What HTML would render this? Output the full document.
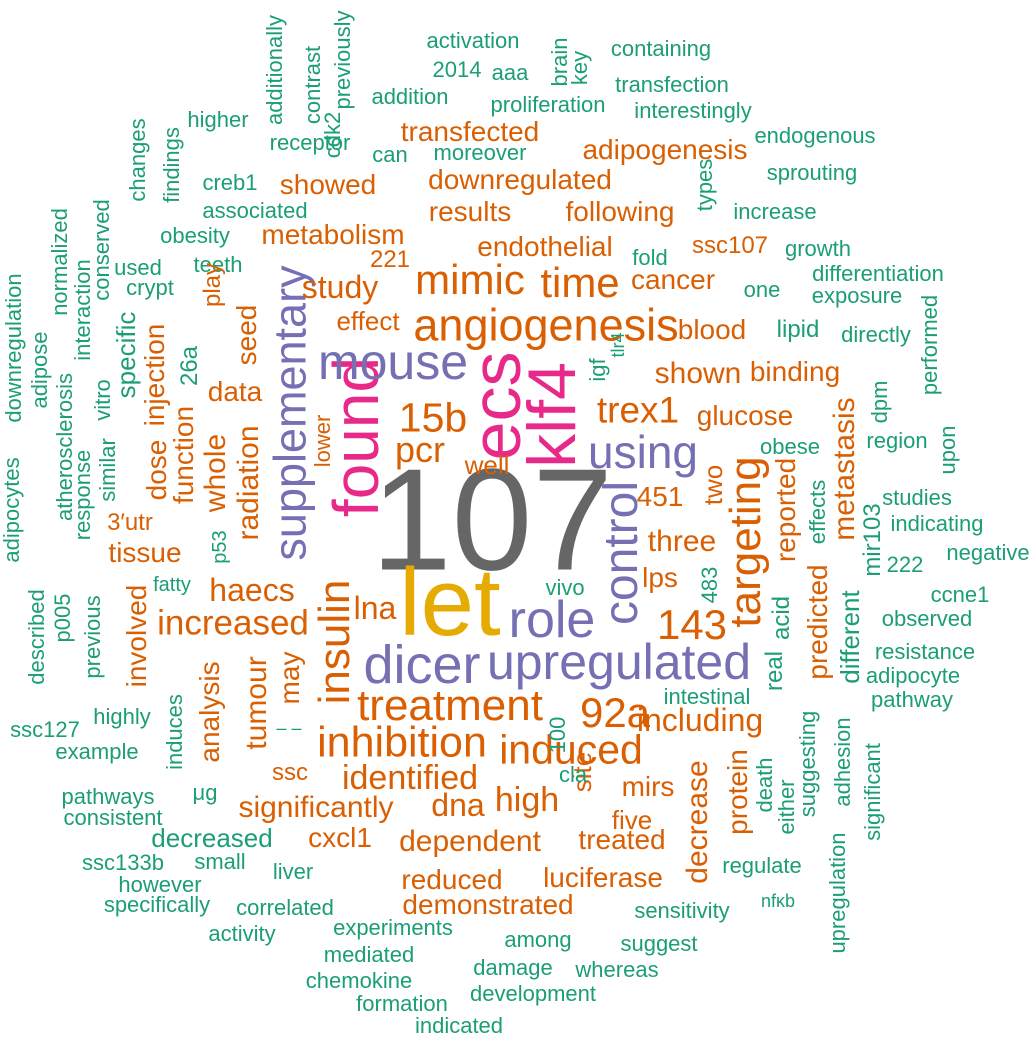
<!DOCTYPE html>
<html><head><meta charset="utf-8"><style>
body{margin:0;width:1029px;height:1035px;background:#fff;position:relative;overflow:hidden;font-family:"Liberation Sans",Arial,sans-serif}
.w{position:absolute;transform:translate(-50%,-50%);white-space:nowrap;line-height:1}
.r{transform:translate(-50%,-50%) rotate(-90deg)}
.g{color:#1B9E77;font-size:22px}.o{color:#D95F02;font-size:28px}.p{color:#7570B3}.k{color:#E7298A}.y{color:#E6AB02}.d{color:#666}
</style></head><body>
<div class="w d" style="left:492px;top:520px;font-size:145px">107</div>
<div class="w y" style="left:450px;top:603px;font-size:96px">let</div>
<div class="w r k" style="left:552px;top:415px;font-size:68px">klf4</div>
<div class="w r k" style="left:496px;top:406px;font-size:70px">ecs</div>
<div class="w r k" style="left:356px;top:437px;font-size:64px">found</div>
<div class="w p" style="left:393px;top:362px;font-size:50px">mouse</div>
<div class="w r p" style="left:290px;top:413px;font-size:45px">supplementary</div>
<div class="w p" style="left:643px;top:452px;font-size:46px">using</div>
<div class="w r p" style="left:622px;top:553px;font-size:48px">control</div>
<div class="w p" style="left:552px;top:620px;font-size:52px">role</div>
<div class="w p" style="left:422px;top:665px;font-size:54px">dicer</div>
<div class="w p" style="left:619px;top:662px;font-size:50px">upregulated</div>
<div class="w o" style="left:546px;top:325px;font-size:45px">angiogenesis</div>
<div class="w o" style="left:470px;top:280px;font-size:42px">mimic</div>
<div class="w o" style="left:580px;top:283px;font-size:42px">time</div>
<div class="w o" style="left:433px;top:418px;font-size:41px">15b</div>
<div class="w o" style="left:420px;top:450px;font-size:36px">pcr</div>
<div class="w o" style="left:638px;top:410px;font-size:37px">trex1</div>
<div class="w r o" style="left:746px;top:542px;font-size:44px">targeting</div>
<div class="w r o" style="left:335px;top:642px;font-size:44px">insulin</div>
<div class="w o" style="left:450px;top:706px;font-size:44px">treatment</div>
<div class="w o" style="left:402px;top:743px;font-size:43px">inhibition</div>
<div class="w o" style="left:571px;top:750px;font-size:41px">induced</div>
<div class="w o" style="left:692px;top:625px;font-size:42px">143</div>
<div class="w o" style="left:615px;top:713px;font-size:42px">92a</div>
<div class="w o" style="left:233px;top:623px;font-size:35px">increased</div>
<div class="w o" style="left:252px;top:590px;font-size:32px">haecs</div>
<div class="w o" style="left:375px;top:608px;font-size:32px">lna</div>
<div class="w o" style="left:700px;top:720px;font-size:32px">including</div>
<div class="w o" style="left:410px;top:778px;font-size:34px">identified</div>
<div class="w o" style="left:527px;top:800px;font-size:34px">high</div>
<div class="w o" style="left:458px;top:805px;font-size:32px">dna</div>
<div class="w o" style="left:316px;top:808px;font-size:30px">significantly</div>
<div class="w r g" style="left:275px;top:70px">additionally</div>
<div class="w r g" style="left:313px;top:85px">contrast</div>
<div class="w r g" style="left:343px;top:60px">previously</div>
<div class="w g" style="left:473px;top:41px">activation</div>
<div class="w g" style="left:457px;top:70px">2014</div>
<div class="w g" style="left:510px;top:73px">aaa</div>
<div class="w r g" style="left:560px;top:62px">brain</div>
<div class="w r g" style="left:580px;top:68px">key</div>
<div class="w g" style="left:661px;top:49px">containing</div>
<div class="w g" style="left:672px;top:85px">transfection</div>
<div class="w g" style="left:410px;top:97px">addition</div>
<div class="w g" style="left:548px;top:105px">proliferation</div>
<div class="w g" style="left:693px;top:111px">interestingly</div>
<div class="w g" style="left:218px;top:120px">higher</div>
<div class="w r g" style="left:333px;top:135px">cdk2</div>
<div class="w g" style="left:310px;top:143px">receptor</div>
<div class="w o" style="left:470px;top:132px">transfected</div>
<div class="w g" style="left:815px;top:136px">endogenous</div>
<div class="w r g" style="left:138px;top:160px">changes</div>
<div class="w r g" style="left:172px;top:165px">findings</div>
<div class="w g" style="left:390px;top:155px">can</div>
<div class="w g" style="left:480px;top:153px">moreover</div>
<div class="w o" style="left:665px;top:150px">adipogenesis</div>
<div class="w g" style="left:812px;top:173px">sprouting</div>
<div class="w g" style="left:230px;top:183px">creb1</div>
<div class="w o" style="left:328px;top:185px">showed</div>
<div class="w o" style="left:520px;top:180px">downregulated</div>
<div class="w r g" style="left:705px;top:185px">types</div>
<div class="w g" style="left:255px;top:211px">associated</div>
<div class="w o" style="left:470px;top:212px">results</div>
<div class="w o" style="left:620px;top:212px">following</div>
<div class="w g" style="left:775px;top:212px">increase</div>
<div class="w r g" style="left:102px;top:250px">conserved</div>
<div class="w r g" style="left:60px;top:262px">normalized</div>
<div class="w g" style="left:195px;top:236px">obesity</div>
<div class="w o" style="left:333px;top:235px">metabolism</div>
<div class="w o" style="left:545px;top:247px">endothelial</div>
<div class="w o" style="left:730px;top:246px;font-size:24px">ssc107</div>
<div class="w g" style="left:818px;top:249px">growth</div>
<div class="w g" style="left:218px;top:265px">teeth</div>
<div class="w o" style="left:390px;top:260px;font-size:24px">221</div>
<div class="w o" style="left:340px;top:287px;font-size:32px">study</div>
<div class="w o" style="left:673px;top:280px">cancer</div>
<div class="w g" style="left:650px;top:258px">fold</div>
<div class="w g" style="left:878px;top:274px">differentiation</div>
<div class="w g" style="left:138px;top:268px">used</div>
<div class="w r g" style="left:83px;top:310px">interaction</div>
<div class="w g" style="left:150px;top:288px">crypt</div>
<div class="w r o" style="left:213px;top:285px;font-size:24px">play</div>
<div class="w r o" style="left:247px;top:335px">seed</div>
<div class="w g" style="left:762px;top:290px">one</div>
<div class="w g" style="left:857px;top:296px">exposure</div>
<div class="w r g" style="left:14px;top:348px">downregulation</div>
<div class="w r g" style="left:40px;top:370px">adipose</div>
<div class="w r g" style="left:65px;top:447px">atherosclerosis</div>
<div class="w r g" style="left:126px;top:355px;font-size:26px">specific</div>
<div class="w r g" style="left:190px;top:366px;font-size:24px">26a</div>
<div class="w o" style="left:368px;top:321px;font-size:26px">effect</div>
<div class="w g" style="left:798px;top:330px;font-size:24px">lipid</div>
<div class="w o" style="left:712px;top:330px">blood</div>
<div class="w g" style="left:876px;top:335px">directly</div>
<div class="w r o" style="left:155px;top:375px">injection</div>
<div class="w o" style="left:235px;top:392px">data</div>
<div class="w o" style="left:698px;top:374px;font-size:30px">shown</div>
<div class="w o" style="left:795px;top:372px">binding</div>
<div class="w r g" style="left:598px;top:370px">igf</div>
<div class="w r g" style="left:618px;top:345px;font-size:18px">tlr4</div>
<div class="w r g" style="left:930px;top:345px">performed</div>
<div class="w r g" style="left:103px;top:400px">vitro</div>
<div class="w r g" style="left:108px;top:470px">similar</div>
<div class="w r g" style="left:83px;top:495px">response</div>
<div class="w r o" style="left:157px;top:470px">dose</div>
<div class="w r o" style="left:184px;top:455px">function</div>
<div class="w r o" style="left:216px;top:473px;font-size:30px">whole</div>
<div class="w r o" style="left:249px;top:483px;font-size:30px">radiation</div>
<div class="w r o" style="left:323px;top:441px;font-size:22px">lower</div>
<div class="w r o" style="left:845px;top:469px;font-size:30px">metastasis</div>
<div class="w o" style="left:745px;top:416px">glucose</div>
<div class="w g" style="left:897px;top:441px">region</div>
<div class="w r g" style="left:880px;top:402px">dpm</div>
<div class="w r g" style="left:948px;top:450px">upon</div>
<div class="w g" style="left:790px;top:447px">obese</div>
<div class="w o" style="left:487px;top:465px;font-size:26px">well</div>
<div class="w r g" style="left:12px;top:510px">adipocytes</div>
<div class="w o" style="left:130px;top:523px;font-size:24px">3′utr</div>
<div class="w o" style="left:145px;top:553px">tissue</div>
<div class="w r o" style="left:713px;top:485px;font-size:26px">two</div>
<div class="w o" style="left:660px;top:497px">451</div>
<div class="w r o" style="left:786px;top:510px;font-size:28px">reported</div>
<div class="w r g" style="left:818px;top:512px;font-size:22px">effects</div>
<div class="w r g" style="left:873px;top:540px;font-size:24px">mir103</div>
<div class="w g" style="left:917px;top:498px">studies</div>
<div class="w g" style="left:937px;top:524px">indicating</div>
<div class="w g" style="left:988px;top:553px">negative</div>
<div class="w r g" style="left:220px;top:547px;font-size:20px">p53</div>
<div class="w o" style="left:682px;top:542px;font-size:30px">three</div>
<div class="w g" style="left:565px;top:588px">vivo</div>
<div class="w o" style="left:660px;top:578px">lps</div>
<div class="w r g" style="left:782px;top:618px;font-size:24px">acid</div>
<div class="w r o" style="left:818px;top:622px;font-size:28px">predicted</div>
<div class="w r g" style="left:775px;top:671px;font-size:24px">real</div>
<div class="w r g" style="left:710px;top:585px">483</div>
<div class="w g" style="left:905px;top:565px">222</div>
<div class="w g" style="left:960px;top:595px">ccne1</div>
<div class="w g" style="left:172px;top:585px;font-size:20px">fatty</div>
<div class="w r g" style="left:63px;top:618px">p005</div>
<div class="w r g" style="left:37px;top:637px">described</div>
<div class="w r g" style="left:93px;top:637px">previous</div>
<div class="w r g" style="left:850px;top:637px;font-size:26px">different</div>
<div class="w g" style="left:927px;top:619px">observed</div>
<div class="w g" style="left:925px;top:652px">resistance</div>
<div class="w g" style="left:913px;top:676px">adipocyte</div>
<div class="w g" style="left:912px;top:700px">pathway</div>
<div class="w r o" style="left:137px;top:636px;font-size:28px">involved</div>
<div class="w r o" style="left:290px;top:678px">may</div>
<div class="w r o" style="left:257px;top:703px;font-size:30px">tumour</div>
<div class="w r o" style="left:210px;top:712px;font-size:28px">analysis</div>
<div class="w r g" style="left:175px;top:732px">induces</div>
<div class="w g" style="left:289px;top:728px;font-size:18px">– –</div>
<div class="w g" style="left:707px;top:697px">intestinal</div>
<div class="w r g" style="left:558px;top:735px">100</div>
<div class="w g" style="left:45px;top:730px">ssc127</div>
<div class="w g" style="left:122px;top:717px">highly</div>
<div class="w g" style="left:97px;top:752px">example</div>
<div class="w g" style="left:205px;top:793px">μg</div>
<div class="w o" style="left:290px;top:773px;font-size:24px">ssc</div>
<div class="w r o" style="left:582px;top:772px;font-size:26px">site</div>
<div class="w o" style="left:648px;top:787px">mirs</div>
<div class="w g" style="left:573px;top:775px">cla</div>
<div class="w r o" style="left:738px;top:792px;font-size:28px">protein</div>
<div class="w r o" style="left:698px;top:822px;font-size:30px">decrease</div>
<div class="w r g" style="left:765px;top:785px">death</div>
<div class="w r g" style="left:787px;top:807px">either</div>
<div class="w r g" style="left:808px;top:764px">suggesting</div>
<div class="w r g" style="left:843px;top:762px">adhesion</div>
<div class="w r g" style="left:838px;top:893px">upregulation</div>
<div class="w r g" style="left:873px;top:792px">significant</div>
<div class="w o" style="left:632px;top:820px;font-size:26px">five</div>
<div class="w g" style="left:108px;top:797px">pathways</div>
<div class="w g" style="left:113px;top:818px">consistent</div>
<div class="w g" style="left:212px;top:838px;font-size:26px">decreased</div>
<div class="w o" style="left:340px;top:838px">cxcl1</div>
<div class="w o" style="left:470px;top:842px;font-size:30px">dependent</div>
<div class="w o" style="left:622px;top:840px">treated</div>
<div class="w g" style="left:220px;top:862px">small</div>
<div class="w g" style="left:123px;top:863px">ssc133b</div>
<div class="w g" style="left:293px;top:872px">liver</div>
<div class="w g" style="left:762px;top:866px">regulate</div>
<div class="w o" style="left:452px;top:880px">reduced</div>
<div class="w o" style="left:603px;top:878px">luciferase</div>
<div class="w g" style="left:160px;top:885px">however</div>
<div class="w g" style="left:157px;top:905px">specifically</div>
<div class="w g" style="left:778px;top:901px;font-size:18px">nfκb</div>
<div class="w g" style="left:285px;top:908px">correlated</div>
<div class="w o" style="left:488px;top:905px">demonstrated</div>
<div class="w g" style="left:682px;top:911px">sensitivity</div>
<div class="w g" style="left:242px;top:934px">activity</div>
<div class="w g" style="left:393px;top:928px">experiments</div>
<div class="w g" style="left:538px;top:940px">among</div>
<div class="w g" style="left:659px;top:944px">suggest</div>
<div class="w g" style="left:369px;top:955px">mediated</div>
<div class="w g" style="left:513px;top:968px">damage</div>
<div class="w g" style="left:617px;top:970px">whereas</div>
<div class="w g" style="left:359px;top:981px">chemokine</div>
<div class="w g" style="left:533px;top:994px">development</div>
<div class="w g" style="left:402px;top:1004px">formation</div>
<div class="w g" style="left:459px;top:1026px">indicated</div>
</body></html>
